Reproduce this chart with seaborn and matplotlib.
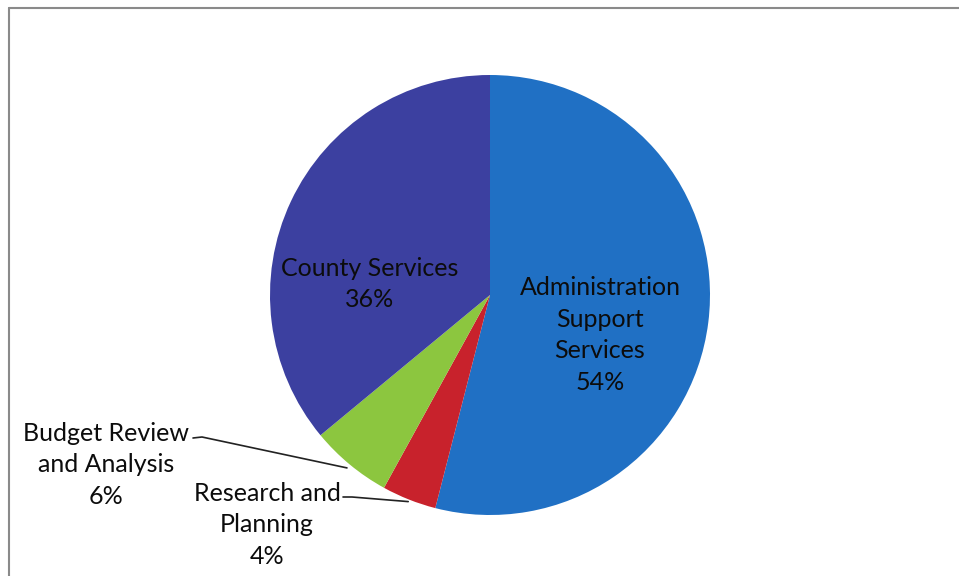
import numpy as np
import matplotlib
matplotlib.use("Agg")
import matplotlib.pyplot as plt
import seaborn as sns

# Budget shares by program area
categories = ["Administration Support Services", "Research and Planning",
              "Budget Review and Analysis", "County Services"]
shares = [54, 4, 6, 36]
label_texts = ["Administration\nSupport\nServices\n54%",
               "Research and\nPlanning\n4%",
               "Budget Review\nand Analysis\n6%",
               "County Services\n36%"]
colors = ["#2070c4", "#c8222c", "#8cc63f", "#3c40a0"]

sns.set_theme(style="white")
plt.rcParams["font.family"] = ["Lato", "DejaVu Sans"]

W, H = 959, 576
fig = plt.figure(figsize=(W / 100, H / 100), dpi=100)
ax = fig.add_axes([0, 0, 1, 1])

cx, cy, r = 490, H - 295, 220
wedges, _ = ax.pie(shares, colors=colors, startangle=90, counterclock=False,
                   center=(cx, cy), radius=r,
                   wedgeprops=dict(linewidth=0))
ax.set_xlim(0, W)
ax.set_ylim(0, H)
ax.set_aspect("equal")
ax.axis("off")

fs = 18
txt = dict(ha="center", va="center", fontsize=fs, color="#0c0c0c",
           linespacing=1.45)
# labels inside the two large slices
ax.text(370, H - 284, label_texts[3], **txt)
ax.text(600, H - 335, label_texts[0], **txt)
# outside labels with leader lines
ax.text(106, H - 465, label_texts[2], **txt)
ax.text(267, H - 525, label_texts[1], **txt)


def edge_point(w, frac=1.0):
    mid = np.deg2rad((w.theta1 + w.theta2) / 2)
    return cx + r * frac * np.cos(mid), cy + r * frac * np.sin(mid)


bx, by = edge_point(wedges[2], 1.02)
ax.plot([193, 202, bx], [H - 438, H - 437, by], color="#222222", lw=1.2)
rx, ry = edge_point(wedges[1], 1.01)
ax.plot([343, 352, rx], [H - 497, H - 497, ry], color="#222222", lw=1.2)

# chart frame
ax.plot([9, W], [H - 8, H - 8], color="#8a8a8a", lw=1.5)
ax.plot([9, 9], [H - 8, 0], color="#8a8a8a", lw=1.5)

fig.savefig("out.png", dpi=100)
